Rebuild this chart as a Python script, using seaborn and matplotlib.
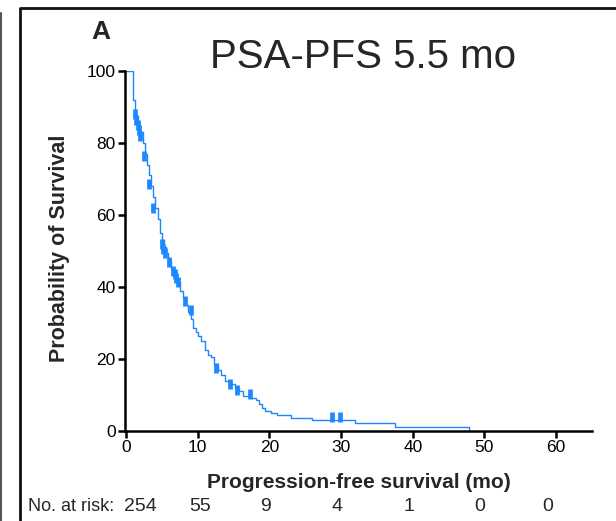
import matplotlib
matplotlib.use("Agg")
import matplotlib.pyplot as plt
from matplotlib.lines import Line2D
from matplotlib import transforms
import pandas as pd
import seaborn as sns

# Kaplan-Meier step values (months, % progression-free)
time_mo = [0, 1.0, 1.2, 1.4, 1.6, 1.8, 2.0, 2.3, 2.6, 2.9, 3.2, 3.5, 3.8, 4.1, 4.4,
           4.7, 5.0, 5.3, 5.6, 5.9, 6.3, 6.7, 7.1, 7.5, 7.9, 8.3, 8.7, 9.0, 9.3,
           9.7, 10.0, 10.5, 11.0, 11.5, 11.9, 12.3, 12.8, 13.2, 13.8, 14.5, 15.2,
           15.8, 16.3, 17.5, 18.1, 18.6, 19.0, 19.4, 20.2, 21.0, 23.0, 26.0, 31.9,
           37.5, 47.9]
surv_pct = [100, 92, 89, 87.5, 86, 84.5, 83, 80, 77, 74, 71, 68, 65, 62, 59,
            55, 53, 51, 49.5, 47.5, 45, 43, 41.5, 39, 37, 35, 33, 31, 28.5,
            27.5, 26.5, 25, 22.5, 21, 20.5, 18.5, 17, 15.5, 14, 13, 12,
            11, 9.8, 9.2, 8.5, 7.5, 6.5, 5.5, 5, 4.4, 3.7, 3.1, 2.3,
            1.2, 0]

# Censored observations
censor_time = [1.25, 1.45, 1.6, 1.8, 2.0, 2.5, 3.25, 3.8, 5.0, 5.2, 5.4, 6.0,
               6.5, 6.8, 7.0, 7.2, 8.2, 9.0, 12.5, 14.5, 15.5, 17.3, 28.8, 29.9]
censor_surv = [88, 86.5, 85, 83.5, 82, 76.5, 68.5, 62, 52, 50.5, 49.5, 47,
               44.5, 43.5, 42.5, 41.5, 36, 33.5, 17.5, 13, 11.5, 10.3, 3.9, 3.9]

# Number at risk table
risk_pos = [1.95, 10.4, 19.5, 29.4, 39.5, 49.3, 58.8]
at_risk = [254, 55, 9, 4, 1, 0, 0]

x_ticks = [0, 10, 20, 30, 40, 50, 60]
y_ticks = [0, 20, 40, 60, 80, 100]

BLUE = "#1e88ff"

sns.set_theme(style="ticks")
plt.rcParams['font.family'] = ['Liberation Sans Narrow', 'Liberation Sans', 'DejaVu Sans']

fig = plt.figure(figsize=(6.16, 5.21), dpi=100)
ax = fig.add_axes([0.2023, 0.1727, 0.7587, 0.691])

km = pd.DataFrame({"time": time_mo, "surv": surv_pct})
sns.lineplot(data=km, x="time", y="surv", drawstyle="steps-post", estimator=None,
             color=BLUE, linewidth=1.0, ax=ax)

cens = pd.DataFrame({"time": censor_time, "surv": censor_surv})
sns.scatterplot(data=cens, x="time", y="surv", marker="|", s=45, linewidth=3.4,
                color=BLUE, ax=ax, zorder=3)

ax.set_xlim(-0.2, 65)
ax.set_ylim(0, 100)
ax.set_xticks(x_ticks)
ax.set_yticks(y_ticks)
ax.tick_params(axis="both", direction="out", length=5, width=1.8, colors="black",
               labelsize=12.5, pad=1.5)
for s in ("top", "right"):
    ax.spines[s].set_visible(False)
for s in ("left", "bottom"):
    ax.spines[s].set_linewidth(1.8)
    ax.spines[s].set_color("black")

ax.set_xlabel("Progression-free survival (mo)", fontsize=15, fontweight="bold")
ax.set_ylabel("Probability of Survival", fontsize=15.5, fontweight="bold")
ax.xaxis.label.set_va("center")
ax.yaxis.label.set_va("center")
ax.xaxis.set_label_coords(0.5015, -0.142)
ax.yaxis.set_label_coords(-0.140, 0.508)

fig.text(0.589, 0.89, "PSA-PFS 5.5 mo", fontsize=29, ha="center", va="center")
fig.text(0.164, 0.939, "A", fontsize=19, fontweight="bold", ha="center", va="center")

# Number at risk row
trans = transforms.blended_transform_factory(ax.transData, fig.transFigure)
fig.text(0.045, 0.028, "No. at risk:", fontsize=13, ha="left", va="center")
for xp, n in zip(risk_pos, at_risk):
    ax.text(xp, 0.028, str(n), transform=trans, fontsize=14, ha="center",
            va="center", clip_on=False)

# Panel frame and neighbouring panel edge
fig.add_artist(Line2D([0.032, 0.032, 1.0], [0.0, 0.985, 0.985],
                      transform=fig.transFigure, color="#111111", linewidth=2.0))
fig.add_artist(Line2D([0.002, 0.002], [0.0, 0.975],
                      transform=fig.transFigure, color="#555555", linewidth=1.5))

ax.set_facecolor("white")
fig.savefig("out.png", dpi=100, facecolor="white")
